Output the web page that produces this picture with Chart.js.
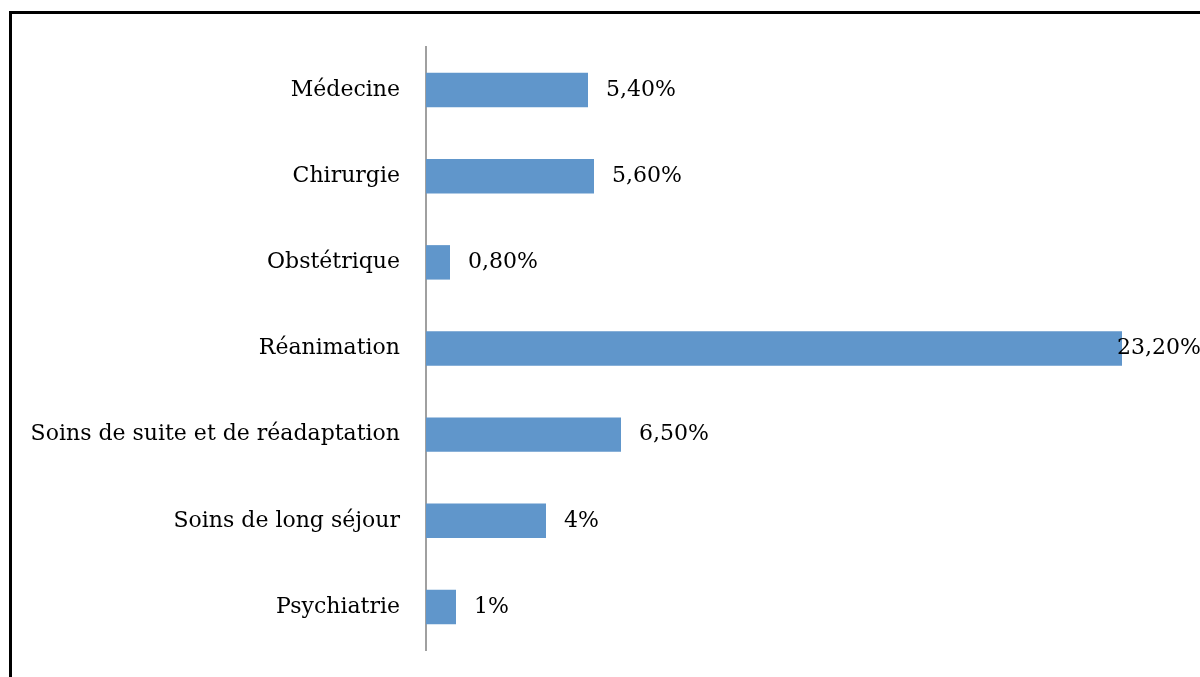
<!DOCTYPE html>
<html>
<head>
<meta charset="utf-8">
<script src="https://cdn.jsdelivr.net/npm/chart.js@4/dist/chart.umd.min.js"></script>
<style>
  html, body { margin: 0; padding: 0; background: #fff; }
  #wrap { position: relative; width: 1200px; height: 677px; overflow: hidden; }
  #cadre { position: absolute; left: 9px; top: 11px; width: 1300px; height: 800px;
           border-top: 3px solid #000; border-left: 3px solid #000; }
  canvas { position: absolute; left: 0; top: 0; }
</style>
</head>
<body>
<div id="wrap">
  <div id="cadre"></div>
  <canvas id="graph" width="1200" height="677"></canvas>
</div>
<script>
// === Données ===
const services = ["Médecine", "Chirurgie", "Obstétrique", "Réanimation",
  "Soins de suite et de réadaptation", "Soins de long séjour", "Psychiatrie"];
const valeurs = [5.4, 5.6, 0.8, 23.2, 6.5, 4, 1];
const etiquettes = ["5,40%", "5,60%", "0,80%", "23,20%", "6,50%", "4%", "1%"];

const police = { family: "'DejaVu Serif', serif", size: 22 };

// etiquettes au bout des barres
const etiquettesPlugin = {
  id: "etiquettes",
  afterDatasetsDraw(chart) {
    const ctx = chart.ctx;
    const meta = chart.getDatasetMeta(0);
    ctx.save();
    ctx.font = police.size + "px " + police.family;
    ctx.fillStyle = "#000";
    ctx.textBaseline = "middle";
    meta.data.forEach((bar, i) => {
      const txt = etiquettes[i];
      const w = ctx.measureText(txt).width;
      let x = bar.x + 18;
      // trop long : on le recale sur le bord (comme Excel)
      if (x + w > chart.width) x = chart.width - w + 1;
      ctx.fillText(txt, x, bar.y);
    });
    ctx.restore();
  }
};

new Chart(document.getElementById("graph"), {
  type: "bar",
  data: {
    labels: services,
    datasets: [{
      data: valeurs,
      backgroundColor: "#6096cb",
      barPercentage: 0.4,
      categoryPercentage: 1
    }]
  },
  options: {
    indexAxis: "y",
    responsive: false,
    animation: false,
    layout: { padding: { left: 0, top: 47, right: 24, bottom: 27 } },
    plugins: { legend: { display: false }, tooltip: { enabled: false } },
    scales: {
      x: { display: false, min: 0, max: 25 },
      y: {
        afterFit(scale) {
          scale.width = 426;
          scale.paddingTop = 0;
          scale.paddingBottom = 0;
        },
        grid: { display: false, drawTicks: false },
        border: { display: true, color: "#a0a0a0", width: 2 },
        ticks: { color: "#000", font: police, padding: 26 }
      }
    }
  },
  plugins: [etiquettesPlugin]
});
</script>
</body>
</html>
